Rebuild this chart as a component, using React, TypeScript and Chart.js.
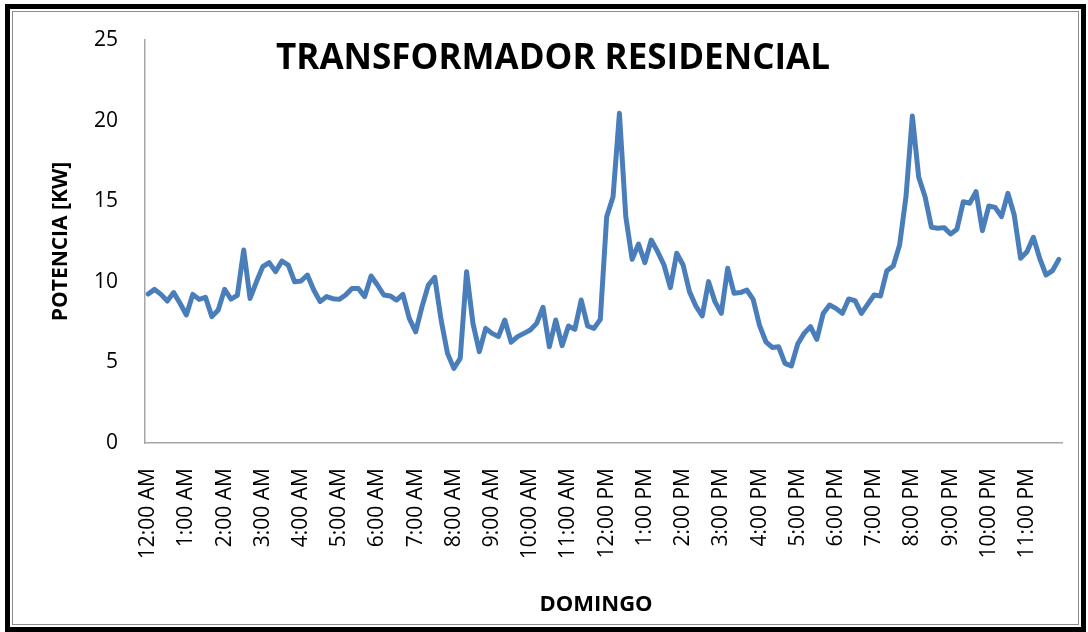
import React, { useEffect, useRef } from 'react';
import { Chart, registerables } from 'chart.js';

Chart.register(...registerables);

const hourLabels = [
  '12:00 AM', '1:00 AM', '2:00 AM', '3:00 AM', '4:00 AM', '5:00 AM',
  '6:00 AM', '7:00 AM', '8:00 AM', '9:00 AM', '10:00 AM', '11:00 AM',
  '12:00 PM', '1:00 PM', '2:00 PM', '3:00 PM', '4:00 PM', '5:00 PM',
  '6:00 PM', '7:00 PM', '8:00 PM', '9:00 PM', '10:00 PM', '11:00 PM',
];
const minuteSteps = ['00', '10', '20', '30', '40', '50'];
const categories = hourLabels.flatMap((h) => minuteSteps.map((m) => h.replace(':00', ':' + m)));

// Potencia [kW], every 10 minutes
const valuesNight = [
  9.24, 9.53, 9.22, 8.81, 9.33, 8.67,
  7.94, 9.22, 8.91, 9.04, 7.84, 8.25,
  9.53, 8.93, 9.16, 11.97, 8.97, 10.0,
  10.94, 11.19, 10.63, 11.29, 11.04, 10.0,
  10.05, 10.42, 9.49, 8.77, 9.08, 8.95,
  8.91, 9.18, 9.59, 9.59, 9.08, 10.36,
];
const valuesMorning = [
  9.8, 9.18, 9.12, 8.87, 9.22, 7.73,
  6.9, 8.46, 9.8, 10.28, 7.63, 5.56,
  4.63, 5.25, 10.63, 7.42, 5.67, 7.11,
  6.8, 6.6, 7.63, 6.25, 6.6, 6.8,
  7.01, 7.42, 8.42, 5.97, 7.63, 6.04,
  7.26, 7.05, 8.87, 7.26, 7.11, 7.67,
];
const valuesAfternoon = [
  14.04, 15.28, 20.45, 14.04, 11.39, 12.34,
  11.19, 12.59, 11.87, 11.04, 9.64, 11.77,
  11.04, 9.39, 8.5, 7.88, 10.01, 8.77,
  8.04, 10.84, 9.29, 9.33, 9.49, 8.91,
  7.3, 6.28, 5.93, 5.97, 4.94, 4.78,
  6.14, 6.8, 7.22, 6.43, 8.04, 8.56,
];
const valuesEvening = [
  8.35, 8.04, 8.93, 8.83, 8.04, 8.62,
  9.18, 9.12, 10.69, 10.98, 12.28, 15.28,
  20.29, 16.48, 15.28, 13.38, 13.32, 13.36,
  12.97, 13.26, 14.97, 14.87, 15.59, 13.17,
  14.7, 14.62, 14.04, 15.49, 14.14, 11.46,
  11.87, 12.76, 11.46, 10.42, 10.69, 11.39,
];
const seriesValues = [...valuesNight, ...valuesMorning, ...valuesAfternoon, ...valuesEvening];

const yTicks = [0, 5, 10, 15, 20, 25];
const chartTitle = 'TRANSFORMADOR RESIDENCIAL';
const yTitle = 'POTENCIA [KW]';
const xTitle = 'DOMINGO';

const FONT = '"Open Sans", "DejaVu Sans", sans-serif';

const textPlugin = {
  id: 'textOverlay',
  afterDraw(chart: any) {
    const { ctx, chartArea: a } = chart;
    ctx.save();
    ctx.fillStyle = '#000';
    ctx.textAlign = 'center';
    ctx.textBaseline = 'middle';
    ctx.font = `bold 35px ${FONT}`;
    ctx.fillText(chartTitle, a.left + 408, a.top + 19);
    ctx.font = `bold 22px ${FONT}`;
    ctx.fillText(xTitle, a.left + 451, a.bottom + 162);
    ctx.translate(a.left - 84, (a.top + a.bottom) / 2);
    ctx.rotate(-Math.PI / 2);
    ctx.font = `bold 21px ${FONT}`;
    ctx.fillText(yTitle, 0, 0);
    ctx.restore();
  },
};

export default function App() {
  const ref = useRef<HTMLCanvasElement | null>(null);

  useEffect(() => {
    if (!ref.current) return;
    const chart = new Chart(ref.current, {
      type: 'line',
      data: {
        labels: categories,
        datasets: [
          {
            data: seriesValues,
            borderColor: '#4a7ebb',
            borderWidth: 5,
            pointRadius: 0,
            tension: 0,
            borderJoinStyle: 'round',
            borderCapStyle: 'round',
          },
        ],
      },
      options: {
        responsive: false,
        animation: false,
        layout: { padding: { left: 0, right: 26, top: 40, bottom: 0 } },
        plugins: { legend: { display: false }, tooltip: { enabled: false }, title: { display: false } },
        scales: {
          x: {
            type: 'category',
            offset: true,
            grid: { display: false, drawTicks: false },
            border: { display: true, color: '#a6a6a6', width: 1.5 },
            ticks: {
              autoSkip: false,
              maxRotation: 90,
              minRotation: 90,
              padding: 25,
              color: '#000',
              font: { family: FONT, size: 21 },
              callback: (_v: any, i: number) => (i % 6 === 0 ? hourLabels[i / 6] : null),
            },
            afterFit: (s: any) => {
              s.height = 189;
            },
          },
          y: {
            min: 0,
            max: 25,
            grid: { display: false, drawTicks: false },
            border: { display: true, color: '#a6a6a6', width: 1.5 },
            ticks: {
              stepSize: 5,
              padding: 27,
              color: '#000',
              font: { family: FONT, size: 21 },
              callback: (v: any) => (yTicks.includes(Number(v)) ? String(v) : null),
            },
            afterFit: (s: any) => {
              s.width = 145;
            },
          },
        },
      },
      plugins: [textPlugin],
    } as any);
    return () => chart.destroy();
  }, []);

  return (
    <div style={{ position: 'absolute', left: 0, top: 0, width: 1088, height: 632, background: '#fff' }}>
      <canvas ref={ref} width={1088} height={632} style={{ display: 'block' }} />
      <div
        style={{
          position: 'absolute', left: 5, top: 4, right: 2, bottom: 0,
          border: '5px solid #000', boxSizing: 'border-box', pointerEvents: 'none',
        }}
      />
      <div
        style={{
          position: 'absolute', left: 12, top: 11, right: 9, bottom: 7,
          border: '1px solid #8c8c8c', boxSizing: 'border-box', pointerEvents: 'none',
        }}
      />
    </div>
  );
}
